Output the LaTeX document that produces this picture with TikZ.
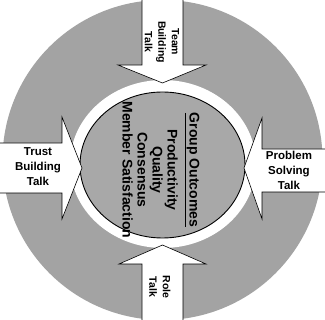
\documentclass[tikz,border=0pt]{standalone}
\usepackage{fontspec}
\setmainfont{Liberation Sans}
\usepackage{tikz}
\definecolor{ringgray}{RGB}{163,163,163}
\definecolor{coregray}{RGB}{168,168,168}

\begin{document}
\begin{tikzpicture}[x=1pt, y=-1pt,
  ring/.style={fill=ringgray},
  core/.style={fill=coregray, draw=black, line width=0.9pt},
  talkarrow/.style={fill=white, draw=black, line width=0.6pt, line join=miter},
  sidelabel/.style={font=\bfseries\fontsize{11.5}{15}\selectfont, align=center, inner sep=0pt},
  uplabel/.style={font=\bfseries\fontsize{10.5}{13.5}\selectfont, align=center, inner sep=0pt, rotate=-90},
  outcomes/.style={font=\bfseries\fontsize{14}{15}\selectfont, align=center, inner sep=0pt, rotate=-90}
]
\useasboundingbox (0,0) rectangle (325,320);
\clip (0,0) rectangle (325,320);
\fill[white] (0,0) rectangle (325,320);
\fill[ring] (162.5,160) circle[radius=160pt];
\fill[white] (163,164) ellipse[x radius=93pt, y radius=84pt];
\draw[core] (162.5,165) ellipse[x radius=82.5pt, y radius=73pt];
\draw[talkarrow] (142,-2) -- (142,65) -- (118,65) -- (162.5,83) -- (206,65) -- (183,65) -- (183,-2) -- cycle;
\draw[talkarrow] (-2,143) -- (62,143) -- (62,117) -- (82,168) -- (62,219) -- (62,193) -- (-2,193) -- cycle;
\draw[talkarrow] (327,149) -- (262,149) -- (262,118) -- (244,168) -- (262,219) -- (262,192) -- (327,192) -- cycle;
\draw[talkarrow] (142,322) -- (142,264) -- (119,264) -- (162.5,245) -- (206,264) -- (183,264) -- (183,322) -- cycle;
\node[uplabel] (team) at (162,42) {Team\\Building\\Talk};
\node[sidelabel] (trust) at (38,167) {Trust\\Building\\Talk};
\node[sidelabel] (problem) at (289,170) {Problem\\Solving\\Talk};
\node[uplabel] (role) at (160,287) {Role\\Talk};
\node[outcomes] (group) at (161,170) {\underline{Group Outcomes}\\[6pt]Productivity\\Quality\\Consensus\\Member Satisfaction};
\end{tikzpicture}
\end{document}
